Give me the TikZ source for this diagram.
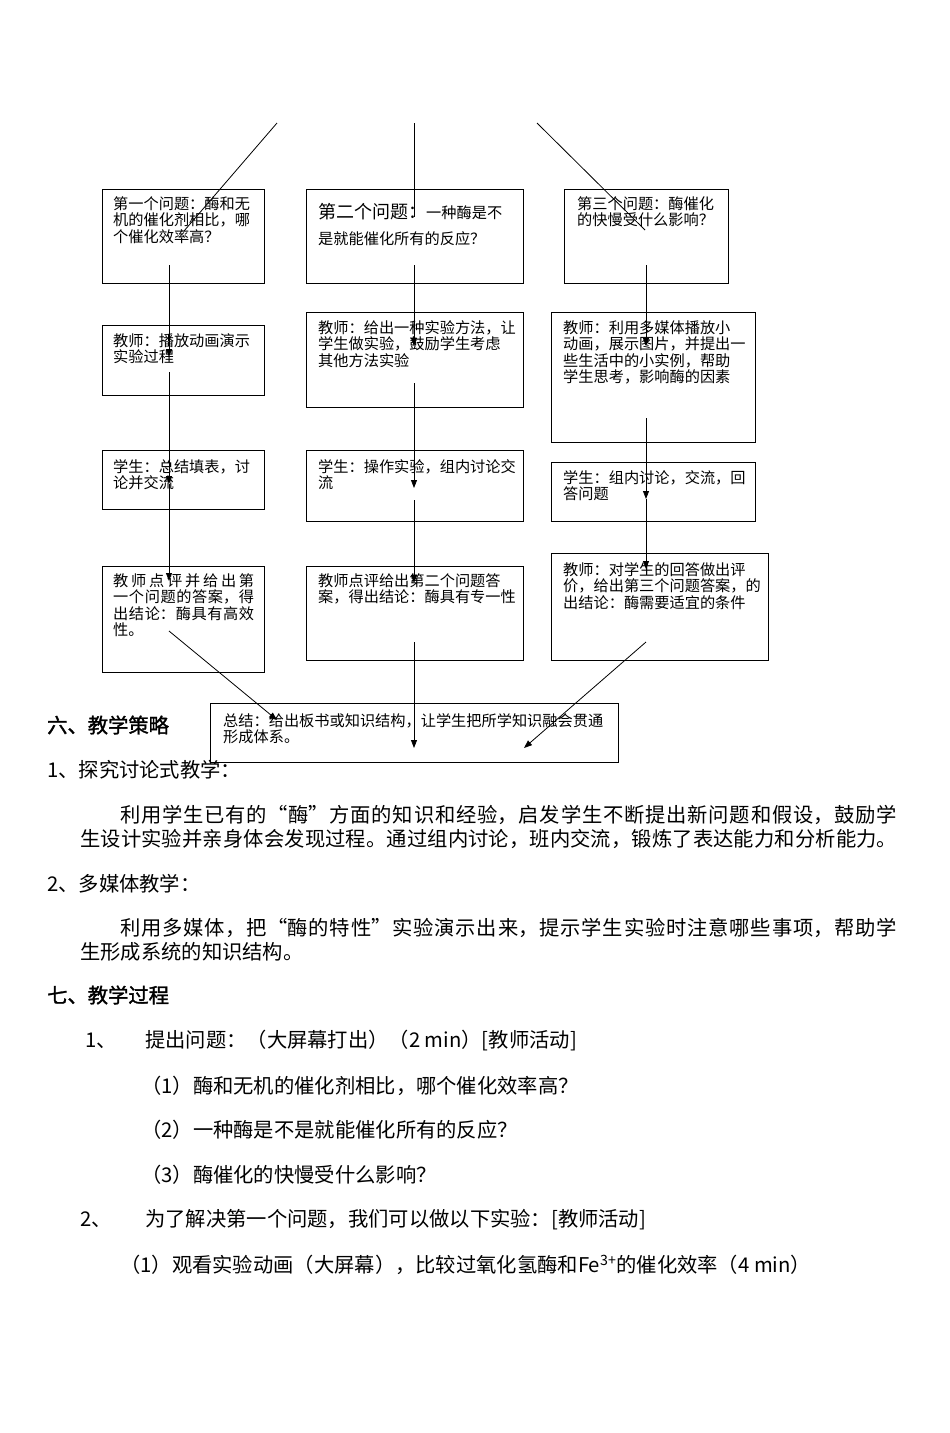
\documentclass[tikz,border=0pt]{standalone}
\usepackage{fontspec}
\setmainfont{Noto Sans CJK SC}
\newfontfamily\cjkbold[FakeBold=1.5]{Noto Sans CJK SC}
\XeTeXlinebreaklocale "zh"
\XeTeXlinebreakskip=0pt plus 1pt
\usepackage{tikz}
\usetikzlibrary{
	arrows.meta,									% 提供各种箭头样式
}

\tikzset{
	flowbox/.style={draw, line width=0.9pt, anchor=north west, inner sep=0pt},
	boxtext/.style={anchor=north west, inner sep=0pt, align=left, font=\fontsize{15.2}{16.5}\selectfont},
	flowarrow/.style={-{Triangle[length=8pt, width=6pt]}, line width=0.8pt},
	plainline/.style={line width=0.8pt},
	bodytext/.style={anchor=west, inner sep=0pt, font=\fontsize{20.3}{24}\selectfont},
	heading/.style={anchor=west, inner sep=0pt, font=\fontsize{20.3}{24}\selectfont\cjkbold},
	paratext/.style={anchor=north west, inner sep=0pt, text width=817pt, align=justify, font=\fontsize{20.3}{24}\selectfont},
}

\begin{document}
\begin{tikzpicture}[x=1pt, y=-1pt]
	\fill[white] (0,0) rectangle (950,1433);
	% 第一列
	\node[flowbox, minimum width=162pt, minimum height=94pt] (q1) at (102,189) {};
	\node[flowbox, minimum width=162pt, minimum height=70pt] (q2) at (102,325) {};
	\node[flowbox, minimum width=162pt, minimum height=59pt] (q3) at (102,450) {};
	\node[flowbox, minimum width=162pt, minimum height=106pt] (q4) at (102,566) {};
	\node[boxtext] (q1t) at (113,196) {第一个问题：酶和无\\机的催化剂相比，哪\\个催化效率高？};
	\node[boxtext] (q2t) at (113,333) {教师：播放动画演示\\实验过程};
	\node[boxtext] (q3t) at (113,459) {学生：总结填表，讨\\论并交流};
	\node[boxtext, text width=141pt, align=justify] (q4t) at (113,573) {教师点评并给出第\linebreak 一个问题的答案，得\linebreak 出结论：酶具有高效\linebreak 性。};
	% 第二列
	\node[flowbox, minimum width=217pt, minimum height=94pt] (r1) at (306,189) {};
	\node[flowbox, minimum width=217pt, minimum height=95pt] (r2) at (306,312) {};
	\node[flowbox, minimum width=217pt, minimum height=71pt] (r3) at (306,450) {};
	\node[flowbox, minimum width=217pt, minimum height=94pt] (r4) at (306,566) {};
	\node[boxtext] (r1t) at (318,203) {{\fontsize{18}{18}\selectfont 第二个问题：}一种酶是不\\[9.5pt]是就能催化所有的反应？};
	\node[boxtext] (r2t) at (318,320) {教师：给出一种实验方法，让\\学生做实验，鼓励学生考虑\\其他方法实验};
	\node[boxtext] (r3t) at (318,459) {学生：操作实验，组内讨论交\\流};
	\node[boxtext] (r4t) at (318,573) {教师点评给出第二个问题答\\案，得出结论：酶具有专一性};
	% 第三列
	\node[flowbox, minimum width=164pt, minimum height=94pt] (s1) at (564,189) {};
	\node[flowbox, minimum width=204pt, minimum height=130pt] (s2) at (551,312) {};
	\node[flowbox, minimum width=204pt, minimum height=59pt] (s3) at (551,462) {};
	\node[flowbox, minimum width=217pt, minimum height=107pt] (s4) at (551,553) {};
	\node[boxtext] (s1t) at (577,196) {第三个问题：酶催化\\的快慢受什么影响？};
	\node[boxtext] (s2t) at (563,320) {教师：利用多媒体播放小\\动画，展示图片，并提出一\\些生活中的小实例，帮助\\学生思考，影响酶的因素};
	\node[boxtext] (s3t) at (563,470) {学生：组内讨论，交流，回\\答问题};
	\node[boxtext] (s4t) at (563,562) {教师：对学生的回答做出评\\价，给出第三个问题答案，的\\出结论：酶需要适宜的条件};
	% 总结
	\node[flowbox, minimum width=408pt, minimum height=59pt] (sum) at (210,703) {};
	\node[boxtext] (sumt) at (223,713) {总结：给出板书或知识结构，让学生把所学知识融会贯通\\形成体系。};
	% 连线端点
	\coordinate (t1s) at (277,123); \coordinate (t1e) at (184,231);
	\coordinate (t2s) at (414,123); \coordinate (t2e) at (414,217);
	\coordinate (t3s) at (537,123); \coordinate (t3e) at (645,230);
	\coordinate (a1) at (169,265); \coordinate (a2) at (169,357);
	\coordinate (a3) at (169,372); \coordinate (a4) at (169,484);
	\coordinate (a5) at (169,581); \coordinate (a6) at (169,631);
	\coordinate (a7) at (277,720);
	\coordinate (b1) at (414,265); \coordinate (b2) at (414,346);
	\coordinate (b3) at (414,383); \coordinate (b4) at (414,488);
	\coordinate (b5) at (414,500); \coordinate (b6) at (414,583);
	\coordinate (b7) at (414,642); \coordinate (b8) at (414,748);
	\coordinate (c1) at (646,265); \coordinate (c2) at (646,346);
	\coordinate (c3) at (646,418); \coordinate (c4) at (646,499);
	\coordinate (c5) at (646,569); \coordinate (c6) at (646,642);
	\coordinate (c7) at (524,748);
	% 连线
	\draw[plainline] (t1s) -- (t1e);
	\draw[plainline] (t2s) -- (t2e);
	\draw[plainline] (t3s) -- (t3e);
	\draw[flowarrow] (a1) -- (a2);
	\draw[flowarrow] (a3) -- (a4);
	\draw[flowarrow] (a4) -- (a5);
	\draw[flowarrow] (a6) -- (a7);
	\draw[flowarrow] (b1) -- (b2);
	\draw[flowarrow] (b3) -- (b4);
	\draw[flowarrow] (b5) -- (b6);
	\draw[flowarrow] (b7) -- (b8);
	\draw[flowarrow] (c1) -- (c2);
	\draw[flowarrow] (c3) -- (c4);
	\draw[flowarrow] (c4) -- (c5);
	\draw[flowarrow] (c6) -- (c7);
	% 正文
	\node[heading] (h6) at (47,725) {六、教学策略};
	\node[bodytext] (st1) at (47,770) {1、探究讨论式教学：};
	\node[paratext] (p1) at (80,805) {\hspace*{40pt}利用学生已有的“酶”方面的知识和经验，启发学生不断提出新问题和假设，鼓励学\linebreak 生设计实验并亲身体会发现过程。通过组内讨论，班内交流，锻炼了表达能力和分析能力。\linebreak};
	\node[bodytext] (st2) at (47,884) {2、多媒体教学：};
	\node[paratext] (p2) at (80,918) {\hspace*{40pt}利用多媒体，把“酶的特性”实验演示出来，提示学生实验时注意哪些事项，帮助学\linebreak 生形成系统的知识结构。};
	\node[heading] (h7) at (47,995) {七、教学过程};
	\node[bodytext] (n1) at (85,1041) {1、};
	\node[bodytext] (n1t) at (145,1041) {提出问题：（大屏幕打出）（2 min）[教师活动]};
	\node[bodytext] (i1) at (141,1086) {（1）酶和无机的催化剂相比，哪个催化效率高？};
	\node[bodytext] (i2) at (141,1130) {（2）一种酶是不是就能催化所有的反应？};
	\node[bodytext] (i3) at (141,1175) {（3）酶催化的快慢受什么影响？};
	\node[bodytext] (n2) at (80,1220) {2、};
	\node[bodytext] (n2t) at (145,1220) {为了解决第一个问题，我们可以做以下实验：[教师活动]};
	\node[bodytext] (j1) at (120,1265) {（1）观看实验动画（大屏幕），比较过氧化氢酶和Fe\textsuperscript{3+}的催化效率（4 min）};
\end{tikzpicture}
\end{document}
